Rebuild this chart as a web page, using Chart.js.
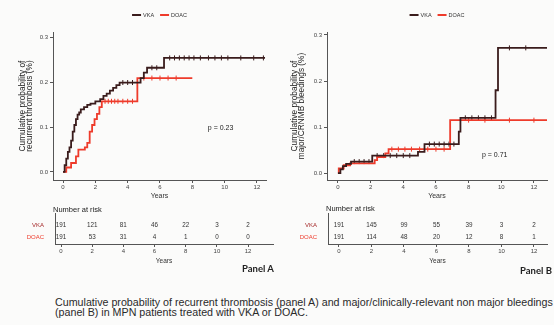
<!DOCTYPE html>
<html><head><meta charset="utf-8">
<script src="https://cdn.jsdelivr.net/npm/chart.js@4"></script>
<style>
html,body{margin:0;padding:0;background:#fbfbfa;width:554px;height:325px;overflow:hidden;font-family:"Liberation Sans",Arial,sans-serif;}
canvas{position:absolute;}
.panel{position:absolute;font-family:Lato,"Liberation Sans",sans-serif;font-weight:bold;font-size:9.5px;color:#222;white-space:nowrap;}
#cap{position:absolute;left:55px;top:297px;font-size:10.7px;line-height:10px;color:#2a2a2a;white-space:nowrap;}
</style></head><body>
<canvas id="mainA" width="275" height="200" style="left:0;top:0"></canvas>
<canvas id="riskA" width="275" height="65" style="left:0;top:200px"></canvas>
<canvas id="mainB" width="279" height="200" style="left:275px;top:0"></canvas>
<canvas id="riskB" width="279" height="65" style="left:275px;top:200px"></canvas>
<div class="panel" style="left:242px;top:263px">Panel A</div>
<div class="panel" style="left:520px;top:265px">Panel B</div>
<div id="cap">Cumulative probability of recurrent thrombosis (panel A) and major/clinically-relevant non major bleedings<br>(panel B) in MPN patients treated with VKA or DOAC.</div>
<script>
// ---- shared labels ----
const seriesNames = ['VKA', 'DOAC'];
const xTickYears = [0, 2, 4, 6, 8, 10, 12];
const yTickProb = [0, 0.1, 0.2, 0.3];

// ---- Panel A: recurrent thrombosis ----
const aVkaTime = [0,0.1,0.2,0.3,0.4,0.5,0.6,0.7,0.8,0.9,1.0,1.1,1.3,1.5,1.7,2.0,2.3,2.5,2.7,2.9,3.1,3.3,3.5,4.8,5.0,5.2,6.25,12.5];
const aVkaProb = [0,0.015,0.03,0.045,0.055,0.07,0.09,0.105,0.118,0.128,0.133,0.14,0.145,0.15,0.153,0.158,0.163,0.17,0.175,0.182,0.188,0.194,0.2,0.21,0.222,0.233,0.255,0.255];
const aDoacTime = [0,0.2,0.5,0.8,0.95,1.35,1.5,1.65,1.8,1.95,2.1,2.25,2.4,4.6,8.0];
const aDoacProb = [0,0.01,0.02,0.035,0.05,0.055,0.065,0.09,0.105,0.118,0.13,0.145,0.158,0.21,0.21];
const aVkaCensTime = [3.7,4.0,4.3,5.5,5.8,6.6,6.9,7.2,7.5,7.8,8.1,8.5,9.0,9.4,9.8,10.2,11.0,11.8,12.4];
const aVkaCensProb = [0.2,0.2,0.2,0.233,0.233,0.255,0.255,0.255,0.255,0.255,0.255,0.255,0.255,0.255,0.255,0.255,0.255,0.255,0.255];
const aDoacCensTime = [2.6,2.8,3.0,3.2,3.4,3.7,4.0,4.3,5.0,5.5,6.0,6.5,7.0];
const aDoacCensProb = [0.158,0.158,0.158,0.158,0.158,0.158,0.158,0.158,0.21,0.21,0.21,0.21,0.21];
const aRiskVka = [191, 121, 81, 46, 22, 3, 2];
const aRiskDoac = [191, 53, 31, 4, 1, 0, 0];
const aPText = 'p = 0.23';
const aPPos = [9.75, 0.098];

// ---- Panel B: major/CRNMB bleedings ----
const bVkaTime = [0,0.15,0.3,0.5,0.8,2.1,4.9,5.3,7.4,7.5,9.65,9.8,12.8];
const bVkaProb = [0,0.008,0.015,0.02,0.025,0.038,0.046,0.063,0.09,0.12,0.18,0.272,0.272];
const bDoacTime = [0,0.05,0.35,0.75,2.25,2.4,2.9,3.1,6.87,12.8];
const bDoacProb = [0,0.01,0.017,0.021,0.028,0.035,0.043,0.052,0.115,0.115];
const bVkaCensTime = [1.0,1.3,1.6,1.9,2.4,2.8,3.2,3.6,4.0,4.4,5.6,5.9,6.2,6.5,6.8,7.1,7.8,8.2,8.6,9.0,9.4,10.5,11.5];
const bVkaCensProb = [0.025,0.025,0.025,0.025,0.038,0.038,0.038,0.038,0.038,0.038,0.063,0.063,0.063,0.063,0.063,0.063,0.12,0.12,0.12,0.12,0.12,0.272,0.272];
const bDoacCensTime = [3.3,3.7,4.1,4.5,5.0,5.5,6.0,6.5,8.0,9.0,10.5,12.0];
const bDoacCensProb = [0.052,0.052,0.052,0.052,0.052,0.052,0.052,0.052,0.115,0.115,0.115,0.115];
const bRiskVka = [191, 145, 99, 55, 39, 3, 2];
const bRiskDoac = [191, 114, 48, 20, 12, 8, 1];
const bPText = 'p = 0.71';
const bPPos = [9.6, 0.039];

const vkaColor = '#3a1c1c';
const doacColor = '#ee3b2b';
const axisColor = '#555';
const FONT = '"Liberation Sans", Arial, sans-serif';

const pts = (t, p) => t.map((v, i) => ({x: v, y: p[i]}));

// p-value label placed in data coordinates
const pLabelPlugin = {
  id: 'pLabel',
  afterDatasetsDraw(chart, args, opts) {
    const {ctx, scales} = chart;
    ctx.save();
    ctx.font = '7px ' + FONT;
    ctx.fillStyle = '#222';
    ctx.textAlign = 'center';
    ctx.textBaseline = 'middle';
    ctx.fillText(opts.text, scales.x.getPixelForValue(opts.pos[0]), scales.y.getPixelForValue(opts.pos[1]));
    ctx.restore();
  }
};

// ggplot-style legend centred over the plot panel
const topLegendPlugin = {
  id: 'topLegend',
  afterDraw(chart, args, opts) {
    const {ctx, chartArea} = chart;
    const ds = chart.data.datasets.slice(0, 2);
    ctx.save();
    ctx.font = '5.5px ' + FONT;
    ctx.textBaseline = 'middle';
    const lineW = 9, gap = 2, itemGap = 6;
    const widths = ds.map(d => lineW + gap + ctx.measureText(d.label).width);
    const total = widths.reduce((a, b) => a + b, 0) + itemGap * (ds.length - 1);
    let x = (chartArea.left + chartArea.right) / 2 - total / 2;
    const y = opts.y;
    ds.forEach((d, i) => {
      ctx.strokeStyle = d.borderColor;
      ctx.lineWidth = 2;
      ctx.beginPath(); ctx.moveTo(x, y); ctx.lineTo(x + lineW, y); ctx.stroke();
      ctx.fillStyle = '#333';
      ctx.fillText(d.label, x + lineW + gap, y);
      x += widths[i] + itemGap;
    });
    ctx.restore();
  }
};

function mainChart(id, c) {
  return new Chart(document.getElementById(id), {
    type: 'line',
    data: {
      datasets: [
        {label: seriesNames[0], data: pts(c.vkaT, c.vkaP), borderColor: vkaColor, backgroundColor: vkaColor, borderWidth: 1.8, stepped: 'before', pointRadius: 0, fill: false},
        {label: seriesNames[1], data: pts(c.doacT, c.doacP), borderColor: doacColor, backgroundColor: doacColor, borderWidth: 1.8, stepped: 'before', pointRadius: 0, fill: false},
        {type: 'scatter', label: 'cVKA', data: pts(c.vkaCT, c.vkaCP), showLine: false, pointStyle: 'line', rotation: 90, pointRadius: 2.5, borderWidth: 1, borderColor: vkaColor},
        {type: 'scatter', label: 'cDOAC', data: pts(c.doacCT, c.doacCP), showLine: false, pointStyle: 'line', rotation: 90, pointRadius: 2.5, borderWidth: 1, borderColor: doacColor}
      ]
    },
    options: {
      responsive: false, animation: false, events: [],
      layout: {padding: {top: 32, right: c.padRight, left: 0, bottom: 0}},
      plugins: {
        legend: {display: false},
        tooltip: {enabled: false},
        pLabel: {text: c.pText, pos: c.pPos},
        topLegend: {y: c.legendY}
      },
      scales: {
        x: {type: 'linear', min: c.xMin, max: c.xMax,
          afterBuildTicks: s => { s.ticks = xTickYears.map(v => ({value: v})); },
          afterFit: s => { s.height = 20; },
          ticks: {font: {size: 6, family: FONT}, color: '#444', padding: 1, maxRotation: 0},
          grid: {display: true, drawOnChartArea: false, drawTicks: true, tickLength: 3, color: axisColor},
          border: {display: true, color: axisColor, width: 1},
          title: {display: true, text: 'Years', font: {size: 7, family: FONT}, color: '#333', padding: {top: 0, bottom: 0}}
        },
        y: {type: 'linear', min: c.yMin, max: c.yMax,
          afterBuildTicks: s => { s.ticks = yTickProb.map(v => ({value: v})); },
          afterFit: s => { s.width = c.yWidth; },
          ticks: {font: {size: 6, family: FONT}, color: '#444', padding: 2, callback: v => v.toFixed(1)},
          grid: {display: true, drawOnChartArea: false, drawTicks: true, tickLength: 3, color: axisColor},
          border: {display: true, color: axisColor, width: 1},
          title: {display: true, text: c.yTitle, font: {size: 8.3, family: FONT, lineHeight: 0.9}, color: '#222', padding: {top: c.titlePad, bottom: 0}}
        }
      }
    },
    plugins: [pLabelPlugin, topLegendPlugin]
  });
}

const riskPlugin = {
  id: 'riskNums',
  afterDatasetsDraw(chart, args, opts) {
    const {ctx, scales, chartArea} = chart;
    ctx.save();
    ctx.font = '6.3px ' + FONT;
    ctx.fillStyle = '#333';
    ctx.textAlign = 'center';
    ctx.textBaseline = 'middle';
    opts.rows.forEach((row, r) => {
      row.forEach((n, i) => {
        ctx.fillText(String(n), scales.x.getPixelForValue(xTickYears[i]), scales.y.getPixelForValue(r + 1));
      });
    });
    ctx.font = '7.5px ' + FONT;
    ctx.fillStyle = '#222';
    ctx.textAlign = 'left';
    ctx.fillText('Number at risk', chartArea.left - 2, opts.titleY);
    ctx.restore();
  }
};

function riskChart(id, c) {
  return new Chart(document.getElementById(id), {
    type: 'scatter',
    data: {datasets: [{label: 'risk', data: [], pointRadius: 0}]},
    options: {
      responsive: false, animation: false, events: [],
      layout: {padding: {top: c.padTop, right: c.padRight, left: 0, bottom: 0}},
      plugins: {legend: {display: false}, tooltip: {enabled: false}, riskNums: {rows: c.rows, titleY: c.titleY}},
      scales: {
        x: {type: 'linear', min: c.xMin, max: c.xMax,
          afterBuildTicks: s => { s.ticks = xTickYears.map(v => ({value: v})); },
          afterFit: s => { s.height = 21; },
          ticks: {font: {size: 6, family: FONT}, color: '#444', padding: 1, maxRotation: 0},
          grid: {display: true, drawOnChartArea: false, drawTicks: true, tickLength: 3, color: axisColor},
          border: {display: true, color: axisColor, width: 1},
          title: {display: true, text: 'Years', font: {size: 6.5, family: FONT}, color: '#333', padding: {top: 0, bottom: 0}}
        },
        y: {type: 'linear', reverse: true, min: 0, max: 2.6,
          afterBuildTicks: s => { s.ticks = [1, 2].map(v => ({value: v})); },
          afterFit: s => { s.width = c.yWidth; },
          ticks: {font: {size: 6, family: FONT}, padding: 3,
            color: ctx => ctx.index === 0 ? '#a52a2a' : doacColor,
            callback: v => seriesNames[v - 1]},
          grid: {display: false},
          border: {display: true, color: axisColor, width: 1}
        }
      }
    },
    plugins: [riskPlugin]
  });
}

mainChart('mainA', {
  vkaT: aVkaTime, vkaP: aVkaProb, doacT: aDoacTime, doacP: aDoacProb,
  vkaCT: aVkaCensTime, vkaCP: aVkaCensProb, doacCT: aDoacCensTime, doacCP: aDoacCensProb,
  xMin: -0.62, xMax: 12.56, yMin: -0.018, yMax: 0.313, yWidth: 53, padRight: 9, legendY: 15,
  yTitle: ['Cumulative probability of', 'recurrent thrombosis (%)'], titlePad: 19,
  pText: aPText, pPos: aPPos
});
mainChart('mainB', {
  vkaT: bVkaTime, vkaP: bVkaProb, doacT: bDoacTime, doacP: bDoacProb,
  vkaCT: bVkaCensTime, vkaCP: bVkaCensProb, doacCT: bDoacCensTime, doacCP: bDoacCensProb,
  xMin: -0.67, xMax: 12.8, yMin: -0.015, yMax: 0.3065, yWidth: 52, padRight: 7, legendY: 15,
  yTitle: ['Cumulative probability of', 'major/CRNMB bleedings (%)'], titlePad: 16,
  pText: bPText, pPos: bPPos
});
riskChart('riskA', {rows: [aRiskVka, aRiskDoac], xMin: -0.385, xMax: 13.6, yWidth: 55, padTop: 13, padRight: 2, titleY: 10});
riskChart('riskB', {rows: [bRiskVka, bRiskDoac], xMin: -0.67, xMax: 12.8, yWidth: 53, padTop: 13, padRight: 7, titleY: 9});
</script>
</body></html>
